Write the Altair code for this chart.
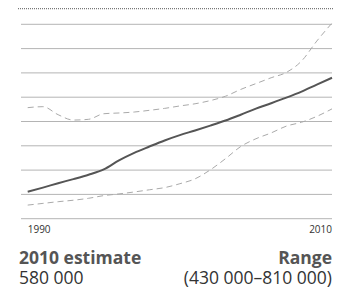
import altair as alt
import pandas as pd

years = list(range(1990, 2011))
estimate = [111, 128, 146, 163, 181, 203, 240, 271, 297, 322, 344, 363, 383, 404, 428, 453, 475, 498, 523, 552, 580]
upper = [457, 461, 428, 406, 409, 432, 435, 439, 446, 454, 464, 473, 486, 504, 532, 556, 580, 602, 649, 731, 805]
lower = [56, 63, 70, 76, 84, 95, 102, 110, 119, 128, 144, 164, 201, 247, 297, 329, 353, 381, 397, 421, 452]
grid_values = [0, 100, 200, 300, 400, 500, 600, 700, 800]
tick_years = [1990, 2010]
left_title = "2010 estimate"
left_value = "580 000"
right_title = "Range"
right_value = "(430 000–810 000)"

FONT = "Open Sans"
W, H = 331, 284

est_df = pd.DataFrame({"year": years, "value": estimate})
band_df = pd.concat([
    pd.DataFrame({"year": years, "value": upper, "s": "upper"}),
    pd.DataFrame({"year": years, "value": lower, "s": "lower"}),
])
grid_df = pd.DataFrame({"v": grid_values})

xs = alt.Scale(domain=[1990, 2010], range=[19.7, 324])
ys = alt.Scale(domain=[0, 800], range=[210.7, 16.3])

grid = alt.Chart(grid_df).mark_rule(color="#b4b4b4", strokeWidth=1).encode(
    y=alt.Y("v:Q", scale=ys, axis=None),
    x=alt.value(13), x2=alt.value(324),
)

dotted = alt.Chart(pd.DataFrame({"a": [0]})).mark_rule(
    color="#777", strokeWidth=1.2, strokeDash=[1, 1]
).encode(y=alt.value(0.6), x=alt.value(10), x2=alt.value(325))

band = alt.Chart(band_df).mark_line(
    color="#aaaaaa", strokeWidth=1, strokeDash=[6, 4], interpolate="monotone"
).encode(
    x=alt.X("year:Q", scale=xs, axis=None),
    y=alt.Y("value:Q", scale=ys, axis=None),
    detail="s:N",
)

line = alt.Chart(est_df).mark_line(
    color="#555555", strokeWidth=2, interpolate="monotone"
).encode(
    x=alt.X("year:Q", scale=xs, axis=None),
    y=alt.Y("value:Q", scale=ys, axis=None),
)

tick_df = pd.DataFrame({"year": tick_years, "label": [str(y) for y in tick_years]})
tick_left = alt.Chart(tick_df.iloc[[0]]).mark_text(
    align="left", baseline="alphabetic", font=FONT, fontSize=10, color="#333"
).encode(x=alt.X("year:Q", scale=xs, axis=None), y=alt.value(225), text="label:N")
tick_right = alt.Chart(tick_df.iloc[[1]]).mark_text(
    align="right", baseline="alphabetic", font=FONT, fontSize=10, color="#333"
).encode(x=alt.X("year:Q", scale=xs, axis=None), y=alt.value(225), text="label:N")

def txt(s, x, y, align, bold, color):
    return alt.Chart(pd.DataFrame({"t": [s]})).mark_text(
        align=align, baseline="alphabetic", font=FONT, fontSize=17.5,
        fontWeight="bold" if bold else "normal", color=color,
    ).encode(x=alt.value(x), y=alt.value(y), text="t:N")

texts = [
    txt(left_title, 11, 256, "left", True, "#555"),
    txt(left_value, 11, 275.5, "left", False, "#333"),
    txt(right_title, 324, 256, "right", True, "#555"),
    txt(right_value, 324, 275.5, "right", False, "#333"),
]

chart = alt.layer(grid, dotted, band, line, tick_left, tick_right, *texts).properties(
    width=W, height=H, autosize=alt.AutoSizeParams(type="none"), padding=0
).configure_view(stroke=None)

chart.save("out.html", embed_options={"renderer": "svg", "actions": False})
